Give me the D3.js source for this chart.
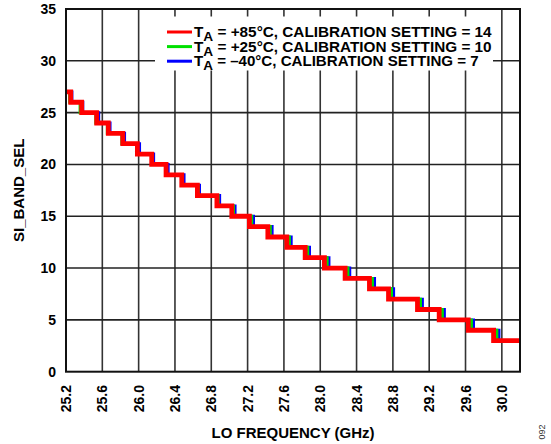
<!DOCTYPE html>
<html><head><meta charset="utf-8">
<script src="https://cdn.jsdelivr.net/npm/d3@7"></script>
<style>body{margin:0;background:#fff}svg{display:block;font-family:Arial,"Liberation Sans",sans-serif}</style>
</head><body><svg id="c" width="551" height="444"></svg>
<script>
const levels = [27,26,25,24,23,22,21,20,19,18,17,16,15,14,13,12,11,10,9,8,7,6,5,4,3];
const redSteps = [25.252,25.373,25.538,25.666,25.825,25.986,26.144,26.302,26.475,26.647,26.862,27.026,27.220,27.423,27.632,27.834,28.046,28.274,28.542,28.752,29.071,29.310,29.630,29.909];
const greenSteps = [25.240,25.355,25.528,25.655,25.815,25.980,26.145,26.305,26.480,26.655,26.875,27.045,27.245,27.450,27.660,27.862,28.076,28.305,28.575,28.785,29.104,29.345,29.665,29.945];
const blueSteps = [25.265,25.385,25.560,25.685,25.845,26.010,26.165,26.325,26.500,26.670,26.892,27.062,27.265,27.470,27.680,27.882,28.096,28.325,28.598,28.808,29.125,29.367,29.688,29.968];
const xTicks = [25.2,25.6,26.0,26.4,26.8,27.2,27.6,28.0,28.4,28.8,29.2,29.6,30.0];
const yTicks = [0,5,10,15,20,25,30,35];
const legendLabels = [
  {pre:"T", sub:"A", post:" = +85°C, CALIBRATION SETTING = 14", color:"#ff0000"},
  {pre:"T", sub:"A", post:" = +25°C, CALIBRATION SETTING = 10", color:"#00e000"},
  {pre:"T", sub:"A", post:" = –40°C, CALIBRATION SETTING = 7", color:"#0000ff"}
];
const legendWidths = [298, 298, 285];

const svg = d3.select("#c");
const L=66, R=520, T=9, B=371.7;
const x = d3.scaleLinear().domain([25.2,30.2]).range([L,R]);
const y = d3.scaleLinear().domain([0,35]).range([B,T]);

// grid
const g = svg.append("g");
g.selectAll(".vg").data(xTicks).join("line")
  .attr("x1",d=>x(d)).attr("x2",d=>x(d)).attr("y1",T).attr("y2",B)
  .attr("stroke","#333").attr("stroke-width",1.6);
g.selectAll(".hg").data(yTicks.filter(d=>d>0&&d<35)).join("line")
  .attr("y1",d=>y(d)).attr("y2",d=>y(d)).attr("x1",L).attr("x2",R)
  .attr("stroke","#222").attr("stroke-width",1.6);

// legend background box
svg.append("rect").attr("x",155).attr("y",16.5).attr("width",338).attr("height",54).attr("fill","#fff");

// series
function pts(steps){
  const p=[[25.2,levels[0]]];
  steps.forEach((s,i)=>p.push([s,levels[i+1]]));
  p.push([30.2,levels[levels.length-1]]);
  return p;
}
const line = d3.line().x(d=>x(d[0])).y(d=>y(d[1])).curve(d3.curveStepAfter);
const series=[{s:blueSteps,c:"#0000ff",w:3},{s:greenSteps,c:"#00e000",w:3},{s:redSteps,c:"#ff0000",w:4.8}];
svg.append("defs").append("clipPath").attr("id","cp").append("rect").attr("x",L).attr("y",T).attr("width",R-L).attr("height",B-T);
series.forEach(o=>{
  svg.append("path").attr("d",line(pts(o.s))).attr("fill","none").attr("stroke",o.c)
    .attr("stroke-width",o.w).attr("clip-path","url(#cp)");
});

// frame
svg.append("rect").attr("x",L).attr("y",T).attr("width",R-L).attr("height",B-T)
  .attr("fill","none").attr("stroke","#111").attr("stroke-width",2);

// y tick labels
svg.selectAll(".yt").data(yTicks).join("text")
  .attr("x",56).attr("y",d=>y(d)).attr("dy","0.36em").attr("text-anchor","end")
  .attr("font-size",14).attr("font-weight","bold").text(d=>d);
// x tick labels
svg.selectAll(".xt").data(xTicks).join("text")
  .attr("transform",d=>`translate(${x(d)},385) rotate(-90)`)
  .attr("dy","0.36em").attr("text-anchor","end")
  .attr("font-size",14).attr("font-weight","bold").text(d=>d.toFixed(1));

// axis titles
svg.append("text").attr("x",(L+R)/2).attr("y",438).attr("text-anchor","middle")
  .attr("font-size",15).attr("font-weight","bold").text("LO FREQUENCY (GHz)");
svg.append("text").attr("transform",`translate(24,${(T+B)/2}) rotate(-90)`).attr("text-anchor","middle")
  .attr("font-size",15).attr("font-weight","bold").text("SI_BAND_SEL");
svg.append("text").attr("transform","translate(545,432) rotate(-90)").attr("text-anchor","middle")
  .attr("font-size",9).attr("fill","#333").text("092");

// legend
legendLabels.forEach((d,i)=>{
  const cy = 32 + i*14.6;
  svg.append("line").attr("x1",167).attr("x2",192).attr("y1",cy).attr("y2",cy)
    .attr("stroke",d.color).attr("stroke-width",3);
  const gg = svg.append("g");
  const t = gg.append("text").attr("x",0).attr("y",0).attr("font-size",14).attr("font-weight","bold");
  t.append("tspan").text(d.pre);
  t.append("tspan").attr("dy",4).attr("font-size",12.5).text(d.sub);
  t.append("tspan").attr("dy",-4).text(d.post);
  const w = t.node().getComputedTextLength();
  const k = legendWidths[i] / w;
  gg.attr("transform",`translate(194,${cy+5}) scale(${k},1)`);
});
</script></body></html>
